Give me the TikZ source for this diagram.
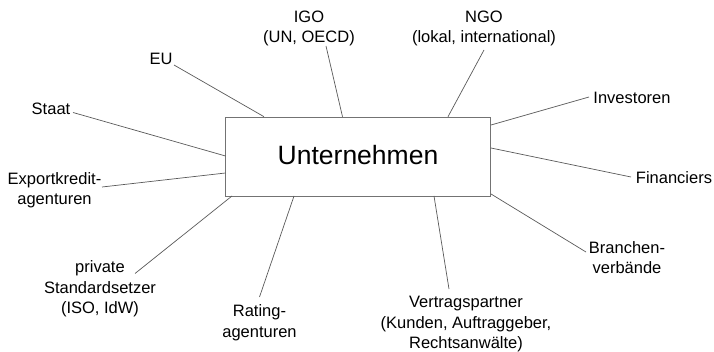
\documentclass[tikz,border=0pt]{standalone}
\usepackage{fontspec}
\setmainfont{Liberation Sans}
\begin{document}
\begin{tikzpicture}[x=1pt,y=-1pt,
  lab/.style={inner sep=0pt,align=center,anchor=base,font=\fontsize{16.5}{20.5}\selectfont},
  conn/.style={draw=black!65,line width=0.7pt},
  mainbox/.style={draw=black!55,line width=0.9pt,fill=white,minimum width=265pt,minimum height=79pt,inner sep=0pt}]
\useasboundingbox (0,0) rectangle (714,352);
% central box
\node[mainbox] (U) at (358,156.5) {};
\node[inner sep=0pt,anchor=base,font=\fontsize{26.5}{30}\selectfont] (UT) at (358,164.5) {Unternehmen};
% labels (anchor = baseline of last line)
\node[lab] (IGO) at (309,43) {IGO\\(UN, OECD)};
\node[lab] (NGO) at (484,43) {NGO\\(lokal, international)};
\node[lab] (EU) at (161,65) {EU};
\node[lab] (Staat) at (51,115) {Staat};
\node[lab] (Export) at (54.5,205) {Exportkredit-\\agenturen};
\node[lab] (Std) at (100,313.7) {private\\Standardsetzer\\(ISO, IdW)};
\node[lab] (Rating) at (259.5,337) {Rating-\\agenturen};
\node[lab] (Vertrag) at (466,348.7) {Vertragspartner\\(Kunden, Auftraggeber,\\Rechtsanwälte)};
\node[lab] (Branchen) at (627,273.7) {Branchen-\\verbände};
\node[lab] (Fin) at (674,184) {Financiers};
\node[lab] (Inv) at (632,103.3) {Investoren};
% connector end points
\coordinate (eEU) at (174,65);   \coordinate (bEU) at (264,116.7);
\coordinate (eIGO) at (326,46);  \coordinate (bIGO) at (342.5,116.7);
\coordinate (eNGO) at (484,50);  \coordinate (bNGO) at (448,116.7);
\coordinate (eStaat) at (73,112.5); \coordinate (bStaat) at (225.5,156);
\coordinate (eExp) at (102,187);  \coordinate (bExp) at (225.5,173);
\coordinate (eStd) at (135,273.5); \coordinate (bStd) at (232,196);
\coordinate (eRat) at (259.5,297); \coordinate (bRat) at (294,196);
\coordinate (eVer) at (449,289);  \coordinate (bVer) at (434,196);
\coordinate (eBr) at (586,252);   \coordinate (bBr) at (491,194);
\coordinate (eFin) at (631,177);  \coordinate (bFin) at (491,148);
\coordinate (eInv) at (589,97);   \coordinate (bInv) at (491,125);
\draw[conn] (eEU) -- (bEU);
\draw[conn] (eIGO) -- (bIGO);
\draw[conn] (eNGO) -- (bNGO);
\draw[conn] (eStaat) -- (bStaat);
\draw[conn] (eExp) -- (bExp);
\draw[conn] (eStd) -- (bStd);
\draw[conn] (eRat) -- (bRat);
\draw[conn] (eVer) -- (bVer);
\draw[conn] (eBr) -- (bBr);
\draw[conn] (eFin) -- (bFin);
\draw[conn] (eInv) -- (bInv);
\end{tikzpicture}
\end{document}
